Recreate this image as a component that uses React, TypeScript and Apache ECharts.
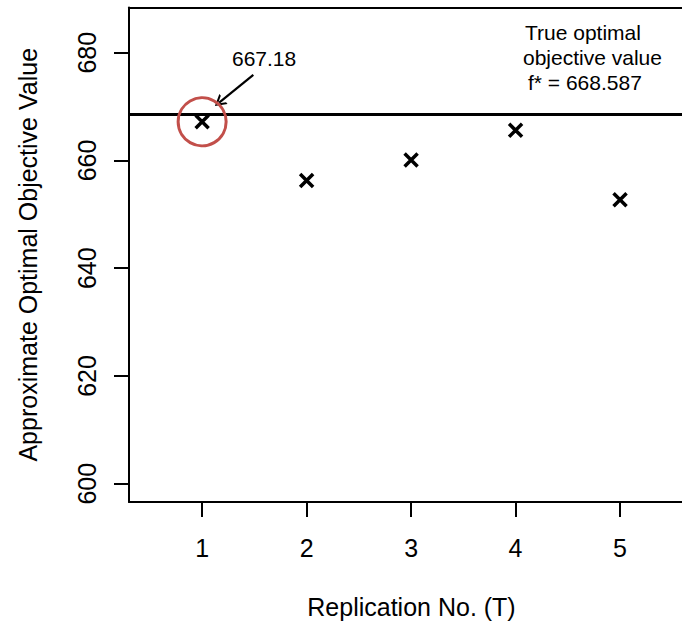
import React, { useEffect, useRef } from "react";
import * as echarts from "echarts";

const replications = [1, 2, 3, 4, 5];
const approxValues = [667.18, 656.3, 660.1, 665.6, 652.7];
const trueOptimal = 668.587;
const highlighted = [[1, 667.18]];
const yTicks = [600, 620, 640, 660, 680];
const xTicks = [1, 2, 3, 4, 5];
const arrowFrom = [1.49, 675.9];
const arrowTo = [1.163, 670.76];

const FONT = "Liberation Sans, Arial, Helvetica, sans-serif";

export default function App() {
  const ref = useRef<HTMLDivElement>(null);
  useEffect(() => {
    document.body.style.margin = "0";
    const chart = echarts.init(ref.current!, null, { renderer: "svg" });
    chart.setOption({
      animation: false,
      backgroundColor: "#fff",
      grid: {
        left: 129,
        right: 0,
        top: 7.5,
        bottom: 121,
        show: false,
      },
      xAxis: [
        {
          type: "value",
          min: 0.3,
          max: 5.593,
          name: "Replication No. (T)",
          nameLocation: "middle",
          nameGap: 92,
          nameTextStyle: { fontFamily: FONT, fontSize: 25, color: "#000", padding: [0, 0, 0, 12] },
          axisLine: { show: true, lineStyle: { color: "#000", width: 2 } },
          axisTick: {
            show: true,
            length: 15,
            inside: false,
            customValues: xTicks,
            lineStyle: { color: "#000", width: 2 },
          },
          axisLabel: {
            customValues: xTicks,
            margin: 33,
            fontFamily: FONT,
            fontSize: 25,
            color: "#000",
          },
          splitLine: { show: false },
        },
        {
          type: "value",
          position: "top",
          min: 0.3,
          max: 5.593,
          axisLine: { show: true, onZero: false, lineStyle: { color: "#000", width: 2 } },
          axisTick: { show: false },
          axisLabel: { show: false },
          splitLine: { show: false },
        },
      ],
      yAxis: {
        type: "value",
        min: 596.6,
        max: 688.4,
        name: "Approximate Optimal Objective Value",
        nameLocation: "middle",
        nameRotate: 90,
        nameGap: 89,
        nameTextStyle: { fontFamily: FONT, fontSize: 25, color: "#000" },
        axisLine: { show: true, lineStyle: { color: "#000", width: 2 } },
        axisTick: {
          show: true,
          length: 15,
          inside: false,
          customValues: yTicks,
          lineStyle: { color: "#000", width: 2 },
        },
        axisLabel: {
          customValues: yTicks,
          rotate: 90,
          margin: 30,
          fontFamily: FONT,
          fontSize: 25,
          color: "#000",
        },
        splitLine: { show: false },
      },
      series: [
        {
          type: "scatter",
          data: replications.map((r, i) => [r, approxValues[i]]),
          symbol: "path://M0,0L10,10M0,10L10,0",
          symbolSize: 13,
          itemStyle: { color: "none", borderColor: "#000", borderWidth: 3.5, opacity: 1 },
          z: 5,
          markLine: {
            silent: true,
            symbol: ["none", "none"],
            label: { show: false },
            lineStyle: { color: "#000", width: 3, type: "solid" },
            data: [{ yAxis: trueOptimal }],
          },
        },
        {
          type: "scatter",
          data: highlighted,
          symbol: "circle",
          symbolSize: 48,
          itemStyle: { color: "none", borderColor: "#c24f4a", borderWidth: 3, opacity: 1 },
          z: 6,
          markLine: {
            silent: true,
            symbol: ["none", "path://M0,10L5,0L10,10L8.2,10L5,3.6L1.8,10Z"],
            symbolSize: [13, 11],
            symbolOffset: [0, 0],
            label: { show: false },
            lineStyle: { color: "#000", width: 2.2, type: "solid" },
            data: [[{ coord: arrowFrom }, { coord: arrowTo }]],
          },
        },
      ],
      graphic: [
        {
          type: "text",
          left: 264 - 32,
          top: 59 - 11,
          style: { text: "667.18", fontFamily: FONT, fontSize: 21, fill: "#000" },
        },
        {
          type: "text",
          left: 525,
          top: 33 - 11,
          style: { text: "True optimal", fontFamily: FONT, fontSize: 21, fill: "#000" },
        },
        {
          type: "text",
          left: 523,
          top: 58 - 11,
          style: { text: "objective value", fontFamily: FONT, fontSize: 21, fill: "#000" },
        },
        {
          type: "text",
          left: 528,
          top: 83 - 11,
          style: { text: "f* = 668.587", fontFamily: FONT, fontSize: 21, fill: "#000" },
        },
      ],
    });
    return () => chart.dispose();
  }, []);
  return (
    <div
      ref={ref}
      style={{ position: "absolute", left: 0, top: 0, width: 682, height: 624 }}
    />
  );
}
